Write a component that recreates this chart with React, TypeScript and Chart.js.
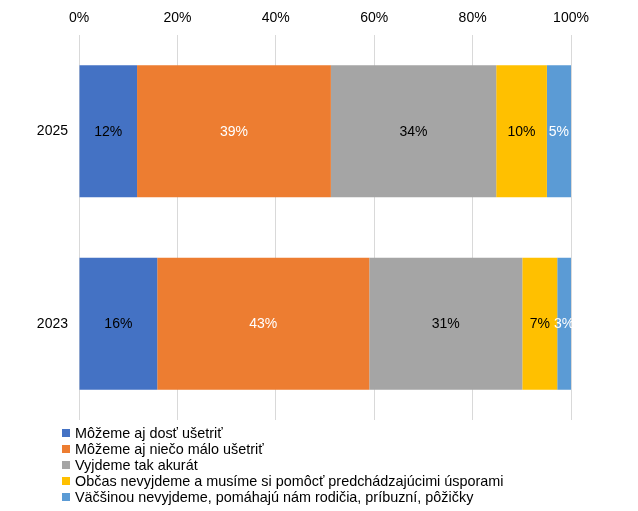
import React, { useEffect, useRef } from "react";
import { Chart, registerables } from "chart.js";

Chart.register(...registerables);

const categories = ["2025", "2023"];
const seriesNames = [
  "Môžeme aj dosť ušetriť",
  "Môžeme aj niečo málo ušetriť",
  "Vyjdeme tak akurát",
  "Občas nevyjdeme a musíme si pomôcť predchádzajúcimi úsporami",
  "Väčšinou nevyjdeme, pomáhajú nám rodičia, príbuzní, pôžičky",
];
const values2025 = [11.8, 39.4, 33.6, 10.3, 4.9];
const values2023 = [15.9, 43.1, 31.1, 7.1, 2.8];
const labels2025 = ["12%", "39%", "34%", "10%", "5%"];
const labels2023 = ["16%", "43%", "31%", "7%", "3%"];
const colors = ["#4472C4", "#ED7D31", "#A5A5A5", "#FFC000", "#5B9BD5"];
const labelColors = ["#000000", "#ffffff", "#000000", "#000000", "#ffffff"];
const xTicks = [0, 20, 40, 60, 80, 100];

const FONT = "'Liberation Sans', Arial, sans-serif";

const valueLabelPlugin = {
  id: "valueLabels",
  afterDatasetsDraw(chart: any) {
    const ctx = chart.ctx;
    ctx.save();
    ctx.font = `14px ${FONT}`;
    ctx.textAlign = "center";
    ctx.textBaseline = "middle";
    chart.data.datasets.forEach((ds: any, di: number) => {
      const meta = chart.getDatasetMeta(di);
      meta.data.forEach((el: any, i: number) => {
        const c = el.getCenterPoint();
        ctx.fillStyle = labelColors[di];
        ctx.fillText(ds.valueLabels[i], c.x, c.y + 0.5);
      });
    });
    ctx.restore();
  },
};

export default function App() {
  const ref = useRef<HTMLCanvasElement | null>(null);

  useEffect(() => {
    document.body.style.margin = "0";
    if (!ref.current) return;
    const chart = new Chart(ref.current, {
      type: "bar",
      data: {
        labels: categories,
        datasets: seriesNames.map((name, k) => ({
          label: name,
          data: [values2025[k], values2023[k]],
          valueLabels: [labels2025[k], labels2023[k]],
          backgroundColor: colors[k],
          borderWidth: 0,
          categoryPercentage: 1,
          barPercentage: 0.686,
        })) as any,
      },
      options: {
        indexAxis: "y",
        animation: false,
        responsive: false,
        devicePixelRatio: 1,
        layout: { padding: { left: 0, top: 0, right: 67, bottom: 91 } },
        plugins: {
          legend: { display: false },
          tooltip: { enabled: false },
        },
        scales: {
          x: {
            position: "top",
            stacked: true,
            min: 0,
            max: 100,
            afterBuildTicks: (s: any) => {
              s.ticks = xTicks.map((v) => ({ value: v }));
            },
            afterFit: (s: any) => {
              s.height = 35;
            },
            ticks: {
              padding: 8,
              color: "#000",
              font: { family: FONT, size: 14 },
              callback: (v: any) => v + "%",
            },
            grid: { color: "#d9d9d9", drawTicks: false },
            border: { display: false },
          },
          y: {
            stacked: true,
            afterFit: (s: any) => {
              s.width = 79;
            },
            ticks: {
              padding: 11,
              color: "#000",
              font: { family: FONT, size: 14 },
            },
            grid: { display: false, drawTicks: false },
            border: { display: false },
          },
        },
      },
      plugins: [valueLabelPlugin],
    } as any);
    return () => chart.destroy();
  }, []);

  return (
    <div style={{ position: "relative", width: 638, height: 511, fontFamily: FONT }}>
      <canvas ref={ref} width={638} height={511} style={{ display: "block" }} />
      <div style={{ position: "absolute", left: 62, top: 425 }}>
        {seriesNames.map((name, k) => (
          <div
            key={name}
            style={{ display: "flex", alignItems: "center", height: 16, fontSize: 14.4, color: "#000", whiteSpace: "nowrap" }}
          >
            <span style={{ display: "inline-block", width: 8, height: 8, background: colors[k], marginRight: 5 }} />
            <span>{name}</span>
          </div>
        ))}
      </div>
    </div>
  );
}
